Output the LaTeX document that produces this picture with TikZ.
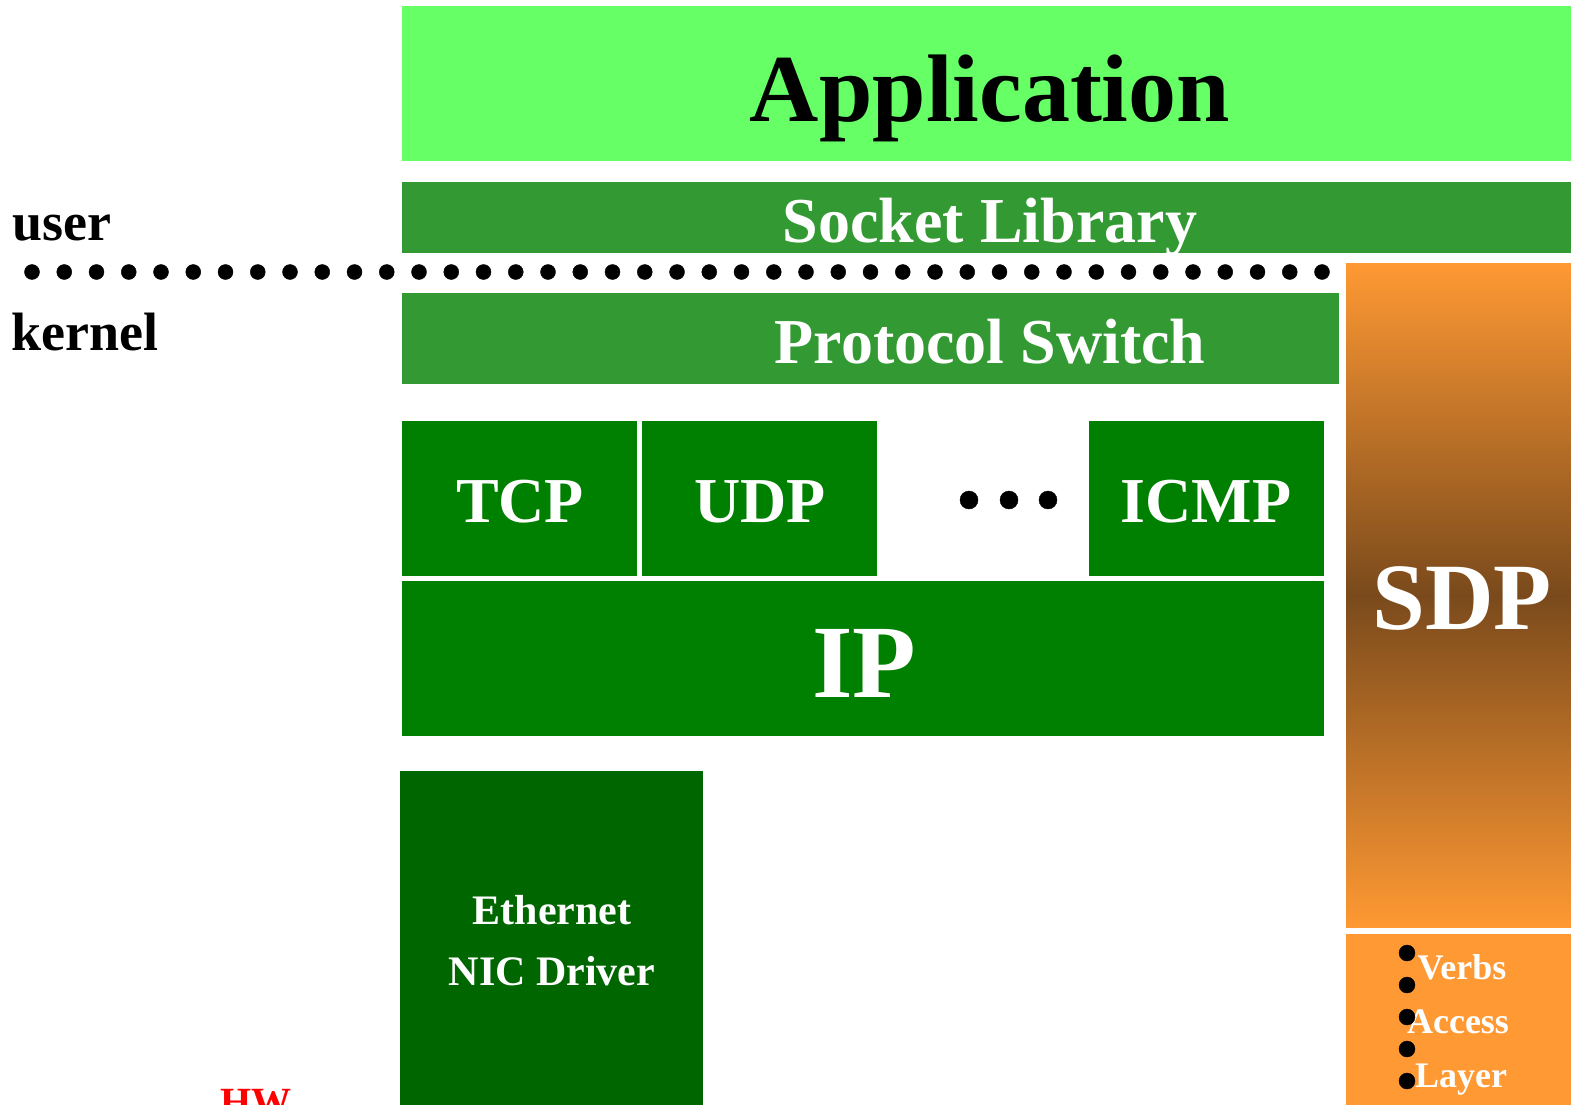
\documentclass[tikz,border=0pt]{standalone}
\usepackage{fontspec}
\setmainfont{Liberation Serif}
\definecolor{appgreen}{HTML}{66FF66}
\definecolor{sockgreen}{HTML}{339933}
\definecolor{protogreen}{HTML}{008000}
\definecolor{nicgreen}{HTML}{006600}
\definecolor{sdporange}{HTML}{FF9933}
\definecolor{sdpbrown}{HTML}{7A4A1C}
\newcommand\fsz[1]{\fontsize{#1}{#1}\selectfont\bfseries}

\begin{document}
\begin{tikzpicture}[x=1pt, y=-1pt]

		\tikzset{
			layer/.style={rectangle, inner sep=0pt, anchor=north west},
			caption/.style={anchor=base, inner sep=0pt, text=white},
		}

		\useasboundingbox (0,0) rectangle (1571,1105);

		% user space
		\node [layer, fill=appgreen, minimum width=1169, minimum height=155] (app) at (402,6) {};
		\node [layer, fill=sockgreen, minimum width=1169, minimum height=71] (sock) at (402,182) {};
		\node [caption, text=black, font=\fsz{96}] (applbl) at (990,122) {Application};
		\node [caption, font=\fsz{64}] (socklbl) at (990,242) {Socket Library};

		% user / kernel border
		\foreach \i in {0,...,40}
			\draw[fill] (32+\i*32.25,272) circle [radius=7.5];
		\node [caption, anchor=base west, text=black, font=\fsz{54}] (user) at (12,240) {user};
		\node [caption, anchor=base west, text=black, font=\fsz{54}] (kernel) at (11,350) {kernel};

		% kernel stack
		\node [layer, fill=sockgreen, minimum width=937, minimum height=91] (switch) at (402,293) {};
		\node [caption, font=\fsz{64}] (switchlbl) at (990,363) {Protocol Switch};

		\node [layer, fill=protogreen, minimum width=235, minimum height=155] (tcp) at (402,421) {};
		\node [layer, fill=protogreen, minimum width=235, minimum height=155] (udp) at (642,421) {};
		\node [layer, fill=protogreen, minimum width=235, minimum height=155] (icmp) at (1089,421) {};
		\node [caption, font=\fsz{64}] (tcplbl) at (520,522) {TCP};
		\node [caption, font=\fsz{64}] (udplbl) at (760,522) {UDP};
		\node [caption, font=\fsz{64}] (icmplbl) at (1206,522) {ICMP};

		\draw[fill] (969,500) circle [radius=9];
		\draw[fill] (1009,500) circle [radius=9];
		\draw[fill] (1048,500) circle [radius=9];

		\node [layer, fill=protogreen, minimum width=922, minimum height=155] (ip) at (402,581) {};
		\node [caption, font=\fsz{104}] (iplbl) at (864,697) {IP};

		\node [layer, fill=nicgreen, minimum width=303, minimum height=334] (nic) at (400,771) {};
		\node [caption, font=\fsz{42}] (niclbla) at (552,924) {Ethernet};
		\node [caption, font=\fsz{42}] (niclblb) at (552,985) {NIC Driver};

		% SDP
		\node [layer, top color=sdporange, bottom color=sdporange, middle color=sdpbrown,
			minimum width=225, minimum height=664] (sdp) at (1346,263) {};
		\node [caption, font=\fsz{95}] (sdplbl) at (1462,629) {SDP};

		\node [layer, fill=sdporange, minimum width=225, minimum height=171] (verbs) at (1346,934) {};
		\node [caption, font=\fsz{36}] (verbsa) at (1462,979) {Verbs};
		\node [caption, font=\fsz{36}] (verbsb) at (1458,1033) {Access};
		\node [caption, font=\fsz{36}] (verbsc) at (1461,1087) {Layer};
		\foreach \y in {953,985,1017,1049,1081}
			\draw[fill] (1407,\y) circle [radius=8];

		\node [caption, text=red, font=\fsz{40}] (hw) at (256,1115) {HW};

\end{tikzpicture}
\end{document}
